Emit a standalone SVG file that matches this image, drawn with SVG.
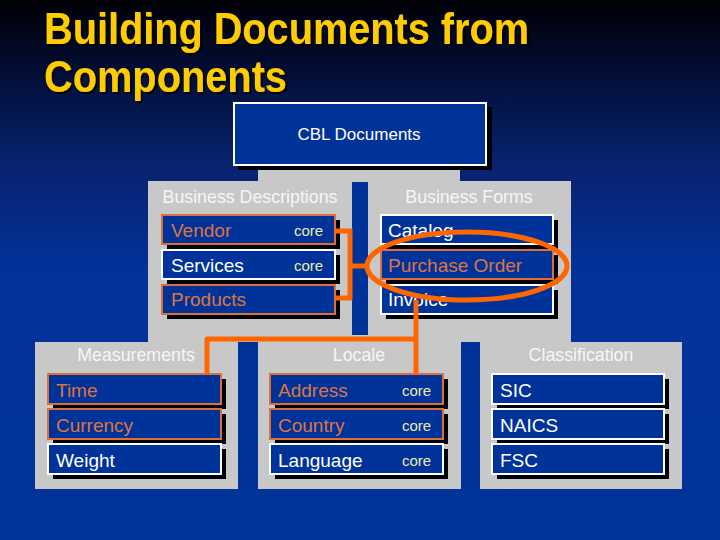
<svg xmlns="http://www.w3.org/2000/svg" width="720" height="540" viewBox="0 0 720 540">
<defs>
<linearGradient id="bg" x1="0" y1="0" x2="0" y2="1">
<stop offset="0" stop-color="#000004"/>
<stop offset="0.12" stop-color="#020c30"/>
<stop offset="0.3" stop-color="#08226e"/>
<stop offset="0.5" stop-color="#03319a"/>
<stop offset="1" stop-color="#003399"/>
</linearGradient>
<filter id="ts" x="-5%" y="-20%" width="110%" height="140%">
<feDropShadow dx="2" dy="2" stdDeviation="0.6" flood-color="#000" flood-opacity="0.9"/>
</filter>
<style>
.title{font-family:"Liberation Sans",Arial,sans-serif;font-weight:bold;font-size:44px;fill:#ffcc00}
.panel{fill:#c8c8c8}
.strip{fill:#003399}
.plabel{font-family:"Liberation Sans",Arial,sans-serif;font-size:17.8px;fill:#f6f6f6;text-anchor:middle}
.sh{fill:#000008}
.bw{fill:#003399;stroke:#ffffff;stroke-width:2}
.bo{fill:#003399;stroke:#dc6e3a;stroke-width:2}
.tw{font-family:"Liberation Sans",Arial,sans-serif;font-size:19px;fill:#ffffff}
.to{font-family:"Liberation Sans",Arial,sans-serif;font-size:19px;fill:#de7443}
.core{font-family:"Liberation Sans",Arial,sans-serif;font-size:15px;fill:#ecebb0}
.con{fill:none;stroke:#ff6600;stroke-width:5}
</style>
</defs>
<rect width="720" height="540" fill="url(#bg)"/>
<g id="title" filter="url(#ts)">
<text class="title" x="44" y="44" textLength="485" lengthAdjust="spacingAndGlyphs">Building Documents from</text>
<text class="title" x="44" y="92" textLength="243" lengthAdjust="spacingAndGlyphs">Components</text>
</g>
<g id="panels">
<rect class="panel" x="258" y="170" width="202" height="14"/>
<rect class="panel" x="148" y="181" width="423" height="162"/>
<rect class="panel" x="35" y="342" width="647" height="147"/>
<rect class="strip" x="352" y="182" width="16" height="153"/>
<rect class="strip" x="238" y="342" width="20" height="147"/>
<rect class="strip" x="461" y="342" width="19" height="147"/>
<text class="plabel" x="250" y="203">Business Descriptions</text>
<text class="plabel" x="469" y="203">Business Forms</text>
<text class="plabel" x="136" y="361">Measurements</text>
<text class="plabel" x="359" y="361">Locale</text>
<text class="plabel" x="581" y="361">Classification</text>
</g>
<g id="cbl">
<rect class="sh" x="238" y="107" width="254" height="63"/>
<rect class="bw" x="234" y="103" width="252" height="62"/>
<text x="359" y="140" font-family="Liberation Sans, Arial, sans-serif" font-size="17" fill="#fff" text-anchor="middle">CBL Documents</text>
</g>
<g id="vendor"><rect class="sh" x="167" y="220" width="173" height="29"/><rect class="bo" x="162" y="215" width="173" height="29"/><text class="to" x="171" y="237">Vendor</text><text class="core" x="294" y="236">core</text></g>
<g id="services"><rect class="sh" x="167" y="255" width="173" height="29"/><rect class="bw" x="162" y="250" width="173" height="29"/><text class="tw" x="171" y="272">Services</text><text class="core" x="294" y="271">core</text></g>
<g id="products"><rect class="sh" x="167" y="290" width="173" height="29"/><rect class="bo" x="162" y="285" width="173" height="29"/><text class="to" x="171" y="306">Products</text></g>
<g id="catalog"><rect class="sh" x="386" y="220" width="172" height="29"/><rect class="bw" x="381" y="215" width="172" height="29"/><text class="tw" x="388" y="237">Catalog</text></g>
<g id="purchase-order"><rect class="sh" x="386" y="255" width="172" height="29"/><rect class="bo" x="381" y="250" width="172" height="29"/><text class="to" x="388" y="272">Purchase Order</text></g>
<g id="invoice"><rect class="sh" x="386" y="290" width="172" height="29"/><rect class="bw" x="381" y="285" width="172" height="29"/><text class="tw" x="388" y="306">Invoice</text></g>
<g id="time"><rect class="sh" x="53" y="379" width="173" height="30"/><rect class="bo" x="48" y="374" width="173" height="30"/><text class="to" x="56" y="397">Time</text></g>
<g id="currency"><rect class="sh" x="53" y="414" width="173" height="30"/><rect class="bo" x="48" y="409" width="173" height="30"/><text class="to" x="56" y="432">Currency</text></g>
<g id="weight"><rect class="sh" x="53" y="449" width="173" height="30"/><rect class="bw" x="48" y="444" width="173" height="30"/><text class="tw" x="56" y="467">Weight</text></g>
<g id="address"><rect class="sh" x="275" y="379" width="173" height="30"/><rect class="bo" x="270" y="374" width="173" height="30"/><text class="to" x="278" y="397">Address</text><text class="core" x="402" y="396">core</text></g>
<g id="country"><rect class="sh" x="275" y="414" width="173" height="30"/><rect class="bo" x="270" y="409" width="173" height="30"/><text class="to" x="278" y="432">Country</text><text class="core" x="402" y="431">core</text></g>
<g id="language"><rect class="sh" x="275" y="449" width="173" height="30"/><rect class="bw" x="270" y="444" width="173" height="30"/><text class="tw" x="278" y="467">Language</text><text class="core" x="402" y="466">core</text></g>
<g id="sic"><rect class="sh" x="497" y="379" width="172" height="30"/><rect class="bw" x="492" y="374" width="172" height="30"/><text class="tw" x="500" y="397">SIC</text></g>
<g id="naics"><rect class="sh" x="497" y="414" width="172" height="30"/><rect class="bw" x="492" y="409" width="172" height="30"/><text class="tw" x="500" y="432">NAICS</text></g>
<g id="fsc"><rect class="sh" x="497" y="449" width="172" height="30"/><rect class="bw" x="492" y="444" width="172" height="30"/><text class="tw" x="500" y="467">FSC</text></g>
<g id="connectors">
<path class="con" d="M335 231 H350 V298 H335"/>
<path class="con" d="M350 266 H368"/>
<ellipse class="con" cx="467" cy="266" rx="100" ry="34"/>
<path class="con" d="M416 300 V374"/>
<path class="con" stroke-linejoin="round" d="M416 339 H207 V374"/>
</g>
</svg>
